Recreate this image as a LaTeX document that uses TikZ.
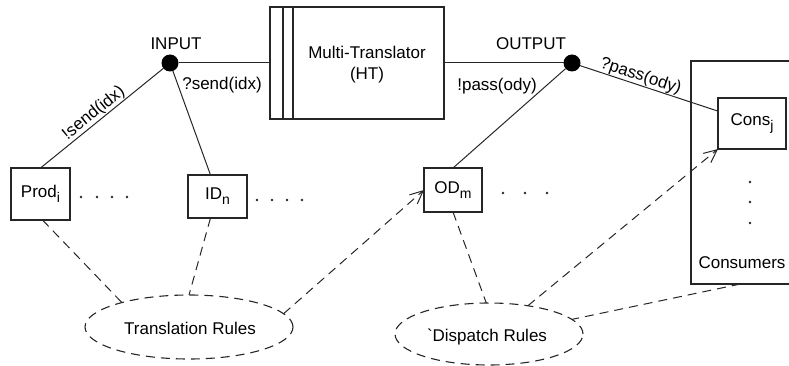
\documentclass[tikz,border=0pt]{standalone}
\usepackage{fontspec}
\setmainfont{Liberation Sans}[Ligatures=TeXOff]
\usetikzlibrary{shapes.geometric,arrows.meta}
\newcommand{\lowsub}[1]{\raisebox{-5pt}{\fontsize{14}{14}\selectfont #1}}
\begin{document}
\begin{tikzpicture}[x=1pt,y=-1pt,
  every node/.style={font=\fontsize{17}{21}\selectfont, inner sep=0pt, outer sep=0pt},
  box/.style={draw=black!85, line width=1.2pt, rectangle},
  port/.style={circle, fill=black, minimum size=17pt},
  rules/.style={ellipse, draw=black!85, line width=1.1pt, dash pattern=on 9pt off 6pt},
  conn/.style={draw=black!85, line width=1pt},
  dconn/.style={draw=black!85, line width=1pt, dash pattern=on 9pt off 6pt},
  darrow/.style={dconn, -{Straight Barb[length=13pt,width=12pt,line width=1pt]}},
  dotmark/.style={fill=black!85},
]
\useasboundingbox (0,0) rectangle (789,366);
\clip (0,0) rectangle (789,366);

% main boxes
\node[box, minimum width=174pt, minimum height=112pt] (ht) at (357,63) {};
\draw[conn, line width=1.2pt] ([xshift=13pt]ht.north west) -- ([xshift=13pt]ht.south west);
\draw[conn, line width=1.2pt] ([xshift=23pt]ht.north west) -- ([xshift=23pt]ht.south west);
\node[align=center] (htlabel) at (367,65) {Multi-Translator\\(HT)};

\node[box, minimum width=119pt, minimum height=223pt] (consumers) at (750.5,172.5) {};
\node (conslabel) at (742,263) {Consumers};

\node[box, minimum width=59pt, minimum height=52pt] (prod) at (40.5,194) {Prod\lowsub{i}};
\node[box, minimum width=59pt, minimum height=43pt] (id) at (217.5,196.5) {ID\lowsub{n}};
\node[box, minimum width=58pt, minimum height=44pt] (od) at (453,190) {OD\lowsub{m}};
\node[box, minimum width=68pt, minimum height=51pt, fill=white] (cons) at (752,123.5) {Cons\lowsub{j}};

% ports
\node[port] (in) at (170,63) {};
\node[port] (out) at (572,63) {};
\node (inlabel) at (176,44) {INPUT};
\node (outlabel) at (531,44) {OUTPUT};

% rules
\node[rules, minimum width=208pt, minimum height=64pt] (tr) at (189,327) {};
\node (trlabel) at (190,328) {Translation Rules};
\node[rules, minimum width=188pt, minimum height=62pt] (dr) at (489,334) {};
\node (drlabel) at (487,337) {`Dispatch Rules};

% solid connectors
\draw[conn] (in) -- (ht);
\draw[conn] (ht) -- (out);
\draw[conn] (prod.north) -- node[pos=0.48, sloped, above=1pt] {!send(idx)} (in);
\draw[conn] ([xshift=-7pt]id.north) -- (in);
\node (sendq) at (222,85) {?send(idx)};
\draw[conn] (od.north) -- (out);
\node (passx) at (497,86) {!pass(ody)};
\draw[conn] (out) -- node[pos=0.42, sloped, above=1pt] {?pass(ody)} (cons.160);

% dashed connectors
\draw[dconn] ([xshift=2pt]prod.south) -- (tr.160);
\draw[dconn] ([xshift=-7pt]id.south) -- (tr.north);
\draw[darrow] (tr.8) -- (od.west);
\draw[dconn] (od.south) -- (dr.95);
\draw[darrow] (dr.36) -- (cons.south west);
\draw[dconn] ([xshift=-10pt]consumers.south) -- (dr.10);

% ellipsis dots
\foreach \x in {81,97,112,127} \fill[dotmark] (\x,197) circle (1.4pt);
\foreach \x in {257,272,287,302} \fill[dotmark] (\x,200) circle (1.4pt);
\foreach \x in {503,525,547} \fill[dotmark] (\x,193) circle (1.4pt);
\foreach \y in {182,202,223} \fill[dotmark] (750,\y) circle (1.4pt);
\end{tikzpicture}
\end{document}
